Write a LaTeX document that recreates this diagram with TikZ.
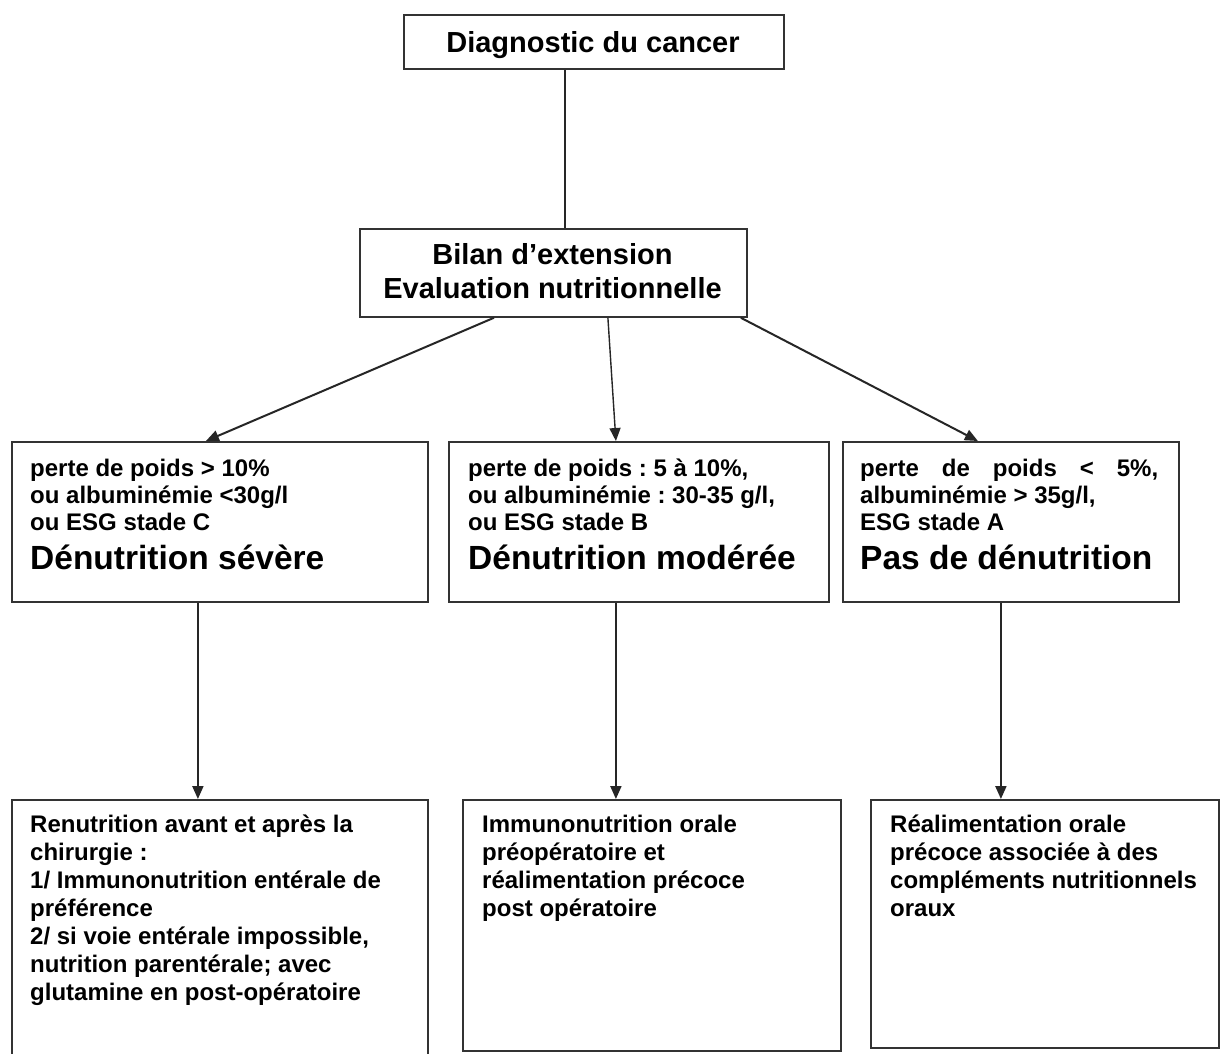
\documentclass[tikz,border=0pt]{standalone}
\usepackage{fontspec}
\setmainfont{Liberation Sans}
\usetikzlibrary{arrows.meta}
\frenchspacing
\newcommand\firststrut{\rule{0pt}{18pt}}
\begin{document}
\begin{tikzpicture}[x=1pt,y=-1pt,
  box/.style={draw=black!80, line width=1.8pt, inner sep=0pt, anchor=north west},
  bigtext/.style={font=\bfseries\fontsize{29}{34}\selectfont, inner sep=0pt},
  crit/.style={font=\bfseries\fontsize{24}{27}\selectfont, align=left, anchor=north west, inner sep=0pt},
  titletext/.style={font=\bfseries\fontsize{33.5}{36}\selectfont, anchor=base west, inner sep=0pt},
  treat/.style={font=\bfseries\fontsize{24}{28}\selectfont, align=left, anchor=north west, inner sep=0pt},
  link/.style={draw=black!85, line width=2pt},
  arr/.style={link, -{Triangle[length=13pt,width=11pt]}}]
\useasboundingbox (0,0) rectangle (1222,1053);
\clip (0,0) rectangle (1222,1053);
\fill[white] (0,0) rectangle (1222,1053);

% boxes
\node[box, minimum width=380pt, minimum height=54pt] (diag) at (403,14) {};
\node[box, minimum width=387pt, minimum height=88pt] (bilan) at (359,228) {};
\node[box, minimum width=416pt, minimum height=160pt] (sev) at (11,441) {};
\node[box, minimum width=380pt, minimum height=160pt] (mod) at (448,441) {};
\node[box, minimum width=336pt, minimum height=160pt] (pas) at (842,441) {};
\node[box, minimum width=416pt, minimum height=262pt] (rsev) at (11,799) {};
\node[box, minimum width=378pt, minimum height=251pt] (rmod) at (462,799) {};
\node[box, minimum width=348pt, minimum height=248pt] (rpas) at (870,799) {};

% texts
\node[bigtext, anchor=base] (diagtext) at (593,52) {Diagnostic du cancer};
\node[bigtext, align=center, anchor=north] (bilantext) at (552.5,243) {\rule{0pt}{21pt}Bilan d’extension\\Evaluation nutritionnelle};

\node[crit] (sevcrit) at (30,458) {\firststrut perte de poids > 10\%\\ou albuminémie <30g/l\\ou ESG stade C};
\node[titletext] (sevtitle) at (30,569) {Dénutrition sévère};
\node[crit] (modcrit) at (468,458) {\firststrut perte de poids : 5 à 10\%,\\ou albuminémie : 30-35 g/l,\\ou ESG stade B};
\node[titletext] (modtitle) at (468,569) {Dénutrition modérée};
\node[crit] (pascrit) at (860,458) {\firststrut\hbox to 298pt{perte\hfill de\hfill poids\hfill <\hfill 5\%,}\\albuminémie > 35g/l,\\ESG stade A};
\node[titletext] (pastitle) at (860,569) {Pas de dénutrition};

\node[treat] (rsevtext) at (30,814) {\firststrut Renutrition avant et après la\\chirurgie :\\1/ Immunonutrition entérale de\\préférence\\2/ si voie entérale impossible,\\nutrition parentérale; avec\\glutamine en post-opératoire};
\node[treat] (rmodtext) at (482,814) {\firststrut Immunonutrition orale\\préopératoire et\\réalimentation précoce\\post opératoire};
\node[treat] (rpastext) at (890,814) {\firststrut Réalimentation orale\\précoce associée à des\\compléments nutritionnels\\oraux};

% connectors
\draw[link] ([xshift=-29pt]diag.south) -- ([xshift=11.5pt]bilan.north);
\draw[arr] ([xshift=-59.5pt]bilan.south) -- ([xshift=-14pt]sev.north);
\draw[arr, line width=1.4pt] ([xshift=54.5pt]bilan.south) -- ([xshift=-23pt]mod.north);
\draw[arr] ([xshift=187.5pt]bilan.south) -- ([xshift=-33pt]pas.north);
\draw[arr] ([xshift=-22pt]sev.south) -- ([xshift=-22pt]rsev.north);
\draw[arr] ([xshift=-23pt]mod.south) -- ([xshift=-36pt]rmod.north);
\draw[arr] ([xshift=-10pt]pas.south) -- ([xshift=-44pt]rpas.north);
\end{tikzpicture}
\end{document}
